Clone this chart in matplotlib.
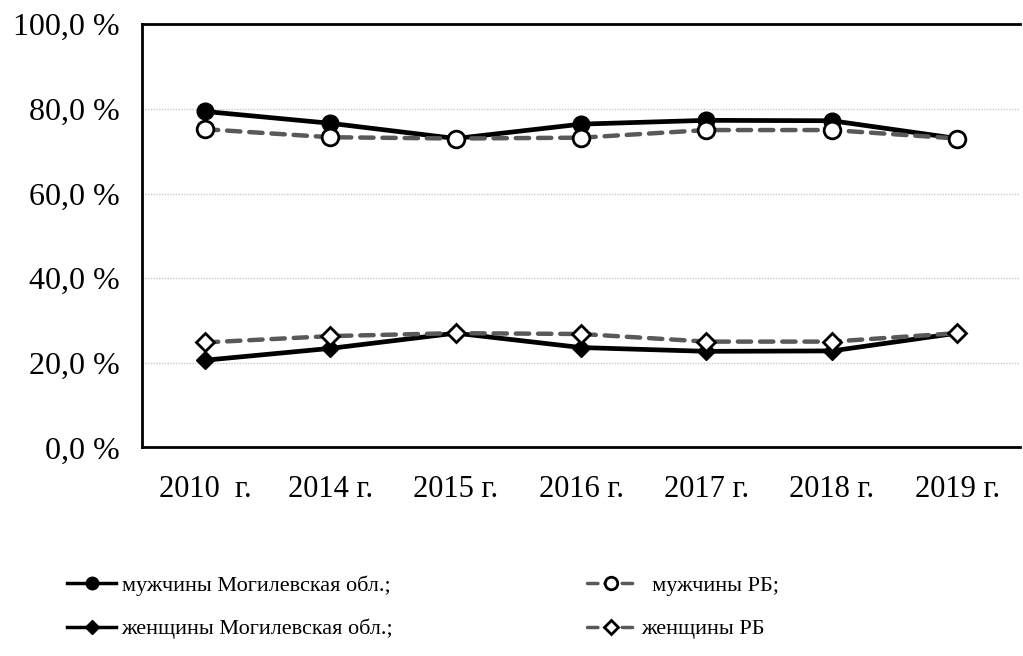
import matplotlib.pyplot as plt
from matplotlib.ticker import FuncFormatter

plt.rcParams['font.family'] = ['Liberation Serif', 'DejaVu Serif']

years = ["2010  г.", "2014 г.", "2015 г.", "2016 г.", "2017 г.", "2018 г.", "2019 г."]
men_mog = [79.4, 76.6, 73.0, 76.4, 77.3, 77.2, 73.0]
men_rb = [75.2, 73.3, 73.0, 73.2, 75.0, 75.0, 73.0]
women_mog = [20.6, 23.4, 27.0, 23.6, 22.7, 22.8, 27.0]
women_rb = [24.8, 26.3, 27.0, 26.8, 25.0, 25.0, 27.0]

fig = plt.figure(figsize=(10.23, 6.56), dpi=100)
ax = fig.add_axes([0.139, 0.318, 0.858, 0.645])

x = range(len(years))
gray = "#595959"
ax.plot(x, men_rb, color=gray, lw=3.2, ls=(0, (3, 2)), marker="o", ms=12,
        mfc="white", mec="black", mew=2, label="  мужчины РБ;", zorder=3,
        dash_capstyle="round")
ax.plot(x, men_mog, color="black", lw=3.4, marker="o", ms=12,
        label="мужчины Могилевская обл.;", zorder=2)
ax.plot(x, women_rb, color=gray, lw=3.2, ls=(0, (3, 2)), marker="D", ms=9.5,
        mfc="white", mec="black", mew=2, label="женщины РБ", zorder=3,
        dash_capstyle="round")
ax.plot(x, women_mog, color="black", lw=3.4, marker="D", ms=9.5,
        label="женщины Могилевская обл.;", zorder=2)

ax.set_xlim(-0.5, len(years) - 0.5)
ax.set_ylim(0, 100)
ax.set_yticks(range(0, 101, 20))
ax.yaxis.set_major_formatter(FuncFormatter(lambda v, p: f"{v:.1f}".replace(".", ",") + " %"))
ax.set_xticks(list(x))
ax.set_xticklabels(years)
ax.grid(axis="y", color="#c8c8c8", lw=1, ls=(0, (1, 1)))
ax.set_axisbelow(True)
ax.spines["right"].set_visible(False)
for s in ["left", "bottom", "top"]:
    ax.spines[s].set_linewidth(2)
ax.tick_params(axis="both", length=0, colors="black")
ax.tick_params(axis="x", pad=20, labelsize=22)
ax.tick_params(axis="y", pad=16, labelsize=23)

h, l = ax.get_legend_handles_labels()
order = [1, 3, 0, 2]
leg = fig.legend([h[i] for i in order], [l[i] for i in order], ncol=2,
                 loc="lower left", bbox_to_anchor=(0.046, -0.005), frameon=False,
                 fontsize=16, handlelength=2.2, handletextpad=0.25,
                 columnspacing=8.7, labelspacing=1.03, markerscale=0.75)
for ln in leg.get_lines():
    ln.set_linewidth(2.5)

fig.savefig("out.png", dpi=100)
